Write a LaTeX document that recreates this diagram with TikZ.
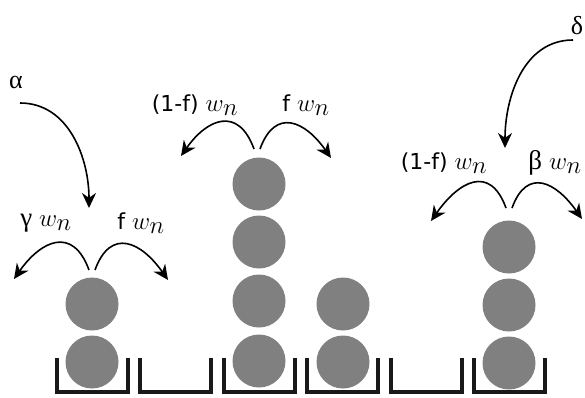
\documentclass[tikz,border=0pt]{standalone}
\usepackage{fontspec}
\usetikzlibrary{arrows.meta}
\newfontfamily\labfont{DejaVu Sans}
\newfontfamily\grkfont{Liberation Serif}
\newcommand{\wn}{{\fontsize{27}{28}\selectfont$w_{\textstyle n}$}}
\newcommand{\gk}[1]{{\fontsize{27}{28}\selectfont\grkfont #1}}
\begin{document}
\begin{tikzpicture}[x=1pt,y=-1pt,
  ball/.style={circle,fill=black!50,minimum size=53pt,inner sep=0pt},
  binline/.style={line width=3.5pt,line join=miter,black!90},
  hop/.style={line width=1.6pt,-{Stealth[length=15pt,width=14pt]}},
  lab/.style={font=\fontsize{22}{24}\selectfont\labfont,inner sep=0pt},
  grk/.style={font=\fontsize{26}{28}\selectfont\grkfont,inner sep=0pt}]
\useasboundingbox (0,0) rectangle (585,397);
% bins
\foreach \i/\xl in {1/57,2/140,3/224,4/307,5/391,6/474}{
  \draw[binline] (\xl,358) -- (\xl,392) -- (\xl+71,392) -- (\xl+71,358);
}
% balls
\node[ball] (a1) at (92,362) {};
\node[ball] (a2) at (92,304) {};
\node[ball] (c1) at (259,361) {};
\node[ball] (c2) at (259,301) {};
\node[ball] (c3) at (259,242) {};
\node[ball] (c4) at (259,184) {};
\node[ball] (d1) at (343,362) {};
\node[ball] (d2) at (343,304) {};
\node[ball] (f1) at (509,363) {};
\node[ball] (f2) at (509,305) {};
\node[ball] (f3) at (509,247) {};
% labels
\node[grk] (alpha) at (16,82) {α};
\node[grk] (delta) at (577,26) {δ};
\node[lab] (l1) at (46,223) {\gk{γ} \wn};
\node[lab] (r1) at (141,223) {f \wn};
\node[lab] (l3) at (195,105) {(1-f) \wn};
\node[lab] (r3) at (306,105) {f \wn};
\node[lab] (l6) at (444,163) {(1-f) \wn};
\node[lab] (r6) at (555,163) {\gk{β} \wn};
% arrow coordinates
\coordinate (as) at (20,103);
\coordinate (ae) at (89,208);
\coordinate (ds) at (573,40);
\coordinate (de) at (505,148);
\coordinate (s1l) at (89,270);
\coordinate (s1r) at (95,270);
\coordinate (t1l) at (14,279);
\coordinate (t1r) at (168,280);
\coordinate (s3l) at (254,149);
\coordinate (s3r) at (260,149);
\coordinate (t3l) at (181,156);
\coordinate (t3r) at (331,158);
\coordinate (s6l) at (506,208);
\coordinate (s6r) at (512,208);
\coordinate (t6l) at (431,221);
\coordinate (t6r) at (582,219);
% arrows
\draw[hop] (as) to[out=0,in=90] (ae);
\draw[hop] (ds) to[out=180,in=90] (de);
\draw[hop] (s1l) to[out=110,in=55,looseness=1.6] (t1l);
\draw[hop] (s1r) to[out=70,in=125,looseness=1.6] (t1r);
\draw[hop] (s3l) to[out=110,in=55,looseness=1.6] (t3l);
\draw[hop] (s3r) to[out=70,in=125,looseness=1.6] (t3r);
\draw[hop] (s6l) to[out=110,in=55,looseness=1.6] (t6l);
\draw[hop] (s6r) to[out=70,in=125,looseness=1.6] (t6r);
\end{tikzpicture}
\end{document}
